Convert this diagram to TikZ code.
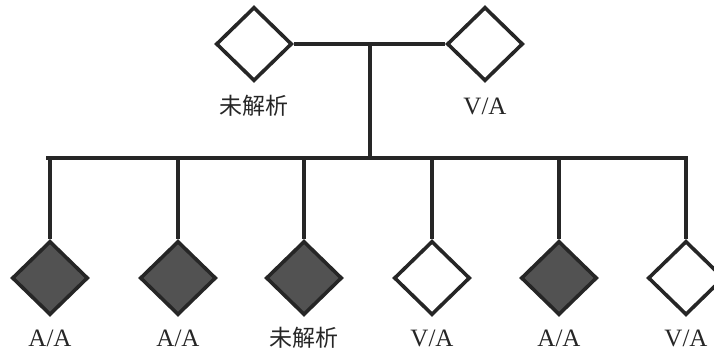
\documentclass[tikz,border=0pt]{standalone}
\usepackage{fontspec}
\setmainfont{Liberation Serif}
\newfontfamily\cjk{Noto Sans CJK SC}
\usetikzlibrary{shapes.geometric}
\begin{document}
\begin{tikzpicture}[x=1pt,y=-1pt,
  person/.style={diamond,aspect=1,inner sep=0pt,minimum width=76pt,minimum height=74pt,
    draw=black!85,line width=3.6pt},
  affected/.style={person,fill=black!68},
  healthy/.style={person,fill=white},
  link/.style={draw=black!85,line width=3.6pt},
  tag/.style={font=\fontsize{25}{27}\selectfont,inner sep=0pt,text=black!85},
  cjktag/.style={font=\cjk\fontsize{23}{25}\selectfont,inner sep=0pt,text=black!85}]
\useasboundingbox (0,0) rectangle (714,353);

% parents
\node[healthy] (p1) at (254,44) {};
\node[healthy] (p2) at (485,44) {};
\node[cjktag] (lp1) at (254,106) {未解析};
\node[tag] (lp2) at (485,106) {V/A};

% children
\node[affected] (c1) at (50,278) {};
\node[affected] (c2) at (178,278) {};
\node[affected] (c3) at (304,278) {};
\node[healthy]  (c4) at (432,278) {};
\node[affected] (c5) at (559,278) {};
\node[healthy]  (c6) at (686,278) {};

\node[tag] (l1) at (50,338) {A/A};
\node[tag] (l2) at (178,338) {A/A};
\node[cjktag] (l3) at (304,338) {未解析};
\node[tag] (l4) at (432,338) {V/A};
\node[tag] (l5) at (559,338) {A/A};
\node[tag] (l6) at (686,338) {V/A};

% mating line and descent line
\coordinate (m) at (370,44);
\coordinate (s) at (370,158);
\coordinate (sl) at (48,158);
\coordinate (sr) at (686,158);
\draw[link] (p1.east) -- (p2.west);
\draw[link] (m) -- (s);
\draw[link,line cap=rect] (sl) -- (sr);

% sibship drops
\foreach \c in {c1,c2,c3,c4,c5,c6}
  \draw[link] (\c.north |- s) -- (\c.north);
\end{tikzpicture}
\end{document}
